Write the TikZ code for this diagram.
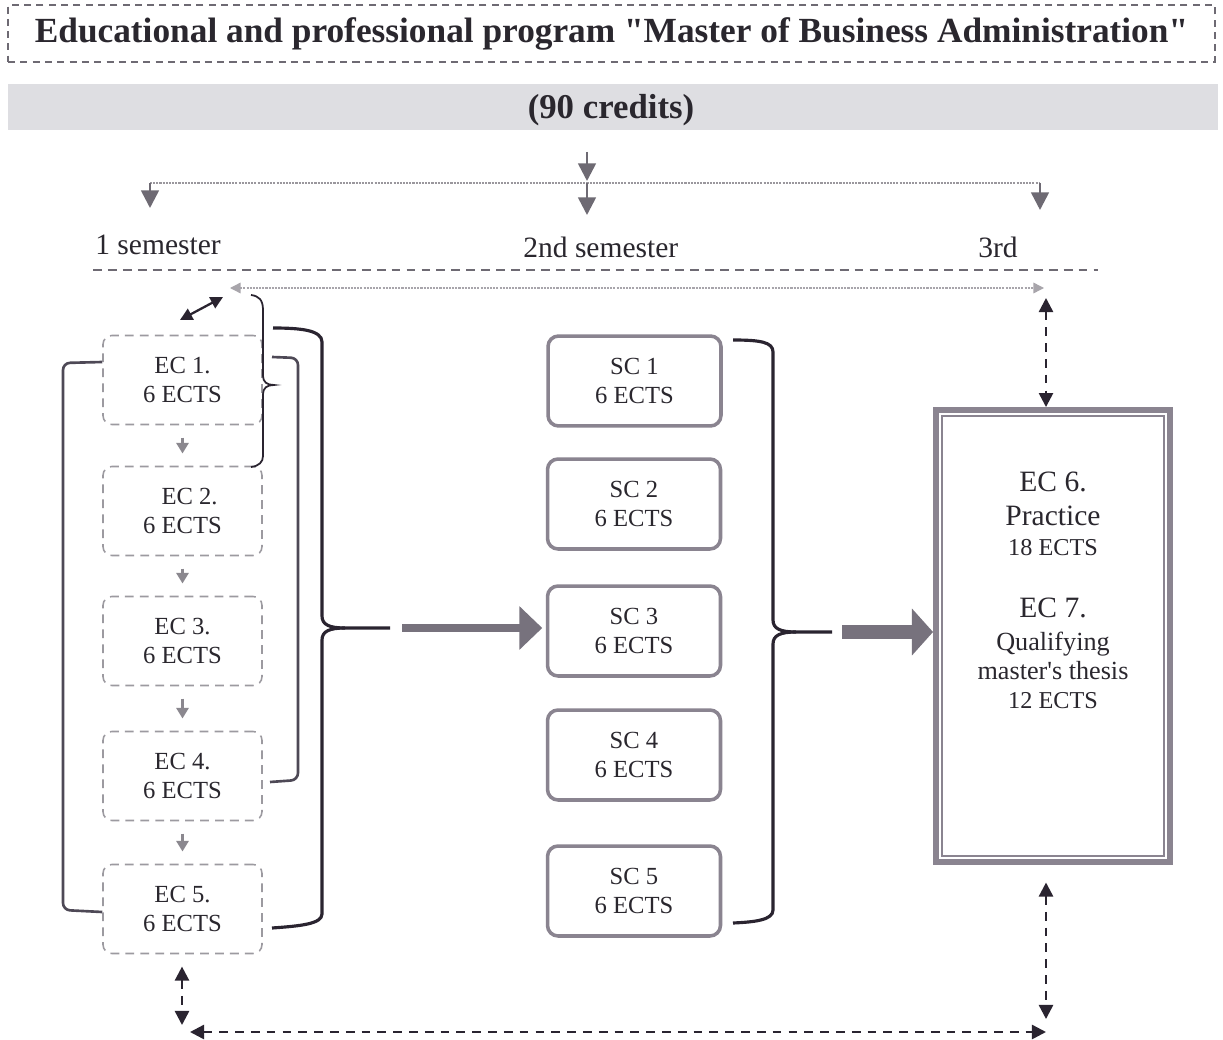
\documentclass[tikz,border=0pt]{standalone}
\usepackage{fontspec}
\setmainfont{Liberation Serif}[Ligatures=TeXOff]
\usetikzlibrary{arrows.meta,calc}
\definecolor{txt}{HTML}{2A272E}
\definecolor{ecgray}{HTML}{9C9AA0}
\definecolor{scgray}{HTML}{8A8490}
\definecolor{brdark}{HTML}{2A2430}
\definecolor{brgray}{HTML}{4E4956}
\definecolor{bandgray}{HTML}{DEDEE2}
\definecolor{agray}{HTML}{6E6A73}
\definecolor{thkgray}{HTML}{77727D}
\tikzset{
  lbl/.style={text=txt, inner sep=0pt},
  ecbox/.style={draw=ecgray, dash pattern=on 5pt off 3.5pt, line width=0.9pt, rounded corners=5pt,
    minimum width=3.18cm, minimum height=1.78cm, align=center, text=txt,
    font=\fontsize{14}{17}\selectfont, inner sep=0pt},
  scbox/.style={draw=scgray, line width=2pt, rounded corners=6pt,
    minimum width=3.46cm, minimum height=1.8cm, align=center, text=txt,
    font=\fontsize{14}{17}\selectfont, inner sep=0pt},
  garrow/.style={agray, line width=1.5pt, -{Triangle[width=10pt,length=10pt]}},
  smallarrow/.style={agray!80, line width=1.2pt, -{Triangle[width=7pt,length=6pt]}},
  darr/.style={brdark, line width=1.4pt, dash pattern=on 5pt off 4pt,
    {Triangle[width=8pt,length=8pt]}-{Triangle[width=8pt,length=8pt]}},
  brace/.style={brdark, line width=1.8pt},
  bracket/.style={brgray, line width=1.5pt, rounded corners=4pt},
  fatarrow/.style={thkgray, -{Triangle[width=24pt,length=13pt]}},
}
\begin{document}
\begin{tikzpicture}[x=0.02cm,y=-0.02cm]
\useasboundingbox[fill=white] (0,0) rectangle (1223,1040);

% title and credits band
\node[draw=agray, dash pattern=on 4pt off 3pt, line width=0.9pt, minimum width=24.14cm,
  minimum height=1.14cm, text=txt, font=\fontsize{20.1}{22}\selectfont\bfseries] (title) at (611.5,33.5)
  {Educational and professional program "Master of Business Administration"};
\node[fill=bandgray, minimum width=24.2cm, minimum height=0.94cm] (credits) at (613,107) {};
\node[lbl, font=\fontsize{19.8}{22}\selectfont\bfseries] (ctext) at (611,110) {(90 credits)};

% split line
\coordinate (sl) at (150,183);
\coordinate (sm) at (587,183);
\coordinate (sr) at (1040,183);
\draw[agray!70, line width=0.8pt, dash pattern=on 1.2pt off 0.6pt] (sl) -- (sr);
\draw[garrow, shorten <=12pt] (credits.south -| sm) -- (587,181);
\draw[garrow] (sm) -- (587,215);
\draw[garrow] (sl) -- (150,208);
\draw[garrow] (sr) -- (1040,210);

% semester labels
\node[lbl, anchor=base west, font=\fontsize{16.8}{20}\selectfont] (s1) at (95,255) {1 semester};
\node[lbl, anchor=base west, font=\fontsize{16.8}{20}\selectfont] (s2) at (523,258) {2nd semester};
\node[lbl, anchor=base west, font=\fontsize{16.8}{20}\selectfont] (s3) at (978,258) {3rd};
\draw[agray, line width=1pt, dash pattern=on 5pt off 3.5pt] (93,270) -- (1098,270);

% dotted link line
\coordinate (dl) at (230,288);
\coordinate (dr) at (1044,288);
\draw[agray!60, line width=0.8pt, dash pattern=on 1.2pt off 0.6pt,
  {Triangle[width=6pt,length=6pt]}-{Triangle[width=6pt,length=6pt]}] (dl) -- (dr);

% EC boxes
\node[ecbox] (ec1) at (182.5,380) {EC 1.\\6 ECTS};
\node[ecbox] (ec2) at (182.5,511) {\hspace*{8pt}EC 2.\\6 ECTS};
\node[ecbox] (ec3) at (182.5,641) {EC 3.\\6 ECTS};
\node[ecbox] (ec4) at (182.5,776) {EC 4.\\6 ECTS};
\node[ecbox] (ec5) at (182.5,909) {EC 5.\\6 ECTS};
\foreach \a/\b in {ec1/ec2,ec2/ec3,ec3/ec4,ec4/ec5}
  \draw[smallarrow, shorten <=7pt, shorten >=7pt] (\a.south) -- (\b.north);

\draw[brdark, line width=1.3pt, {Triangle[width=7pt,length=7pt]}-{Triangle[width=7pt,length=7pt]}]
  (180,320) -- (223,297);

% small brace at EC1
\draw[brdark, line width=1pt]
  (251,295) .. controls (259,296) and (263,300) .. (263,310) -- (263,376)
  .. controls (263,382) and (267,385) .. (274,385)
  .. controls (267,385) and (263,388) .. (263,394) -- (263,456)
  .. controls (263,462) and (259,466) .. (251,467);

% brackets
\draw[bracket] (ec1.west |- 0,362) -- (63,363) -- (63,910) -- (ec5.west |- 0,912);
\draw[bracket] (272,357) -- (298,358) -- (298,780) -- (270,782);

% big brace left
\draw[brace] (273,328) .. controls (300,328) and (322,330) .. (322,342) -- (322,616)
  .. controls (322,625) and (330,628) .. (345,628) -- (390,628);
\draw[brace] (322,640) .. controls (322,631) and (330,628) .. (345,628);
\draw[brace] (322,640) -- (322,914) .. controls (322,924) and (300,926) .. (272,928);
\coordinate (bl) at (402,628);

% SC boxes
\node[scbox] (sc1) at (634.5,381) {SC 1\\6 ECTS};
\node[scbox] (sc2) at (634,504) {SC 2\\6 ECTS};
\node[scbox] (sc3) at (634,631) {SC 3\\6 ECTS};
\node[scbox] (sc4) at (634,755) {SC 4\\6 ECTS};
\node[scbox] (sc5) at (634,891) {SC 5\\6 ECTS};

\draw[fatarrow, line width=5pt] (bl) -- ([xshift=-2]sc3.west |- bl);

% big brace right
\draw[brace] (733,340) .. controls (760,340) and (773,342) .. (773,352) -- (773,620)
  .. controls (773,629) and (781,632) .. (796,632) -- (832,632);
\draw[brace] (773,644) .. controls (773,635) and (781,632) .. (796,632);
\draw[brace] (773,644) -- (773,910) .. controls (773,920) and (755,922) .. (733,923);
\coordinate (br) at (842,632);

% right box
\node[draw=scgray, line width=3.4pt, minimum width=4.68cm, minimum height=9.04cm] (rbox) at (1053,636) {};
\draw[scgray, line width=1pt] ([shift={(9,9)}]rbox.north west) rectangle ([shift={(-9,-9)}]rbox.south east);

\draw[fatarrow, line width=8pt, -{Triangle[width=26pt,length=12pt]}] (br) -- (rbox.west |- br);

\node[lbl, font=\fontsize{16.8}{20}\selectfont, anchor=base] (t1) at (1053,491) {EC 6.};
\node[lbl, font=\fontsize{16.8}{20}\selectfont, anchor=base] (t2) at (1053,525) {Practice};
\node[lbl, font=\fontsize{13.8}{16}\selectfont, anchor=base] (t3) at (1053,555) {18 ECTS};
\node[lbl, font=\fontsize{16.8}{20}\selectfont, anchor=base] (t4) at (1053,617) {EC 7.};
\node[lbl, font=\fontsize{14.9}{18}\selectfont, anchor=base] (t5) at (1053,650) {Qualifying};
\node[lbl, font=\fontsize{14.9}{18}\selectfont, anchor=base] (t6) at (1053,679) {master's thesis};
\node[lbl, font=\fontsize{13.8}{16}\selectfont, anchor=base] (t7) at (1053,708) {12 ECTS};

% dashed double arrows
\coordinate (rt) at (1046,298);
\draw[darr] (rt) -- (rbox.north -| rt) ;
\coordinate (rb) at (1046,1019);
\draw[darr, shorten <=10pt] (rbox.south -| rb) -- (rb);
\coordinate (lb) at (182,1025);
\draw[darr, shorten <=7pt] (ec5.south -| lb) -- (lb);
\draw[darr] (190,1032) -- (1046,1032);
\end{tikzpicture}
\end{document}
